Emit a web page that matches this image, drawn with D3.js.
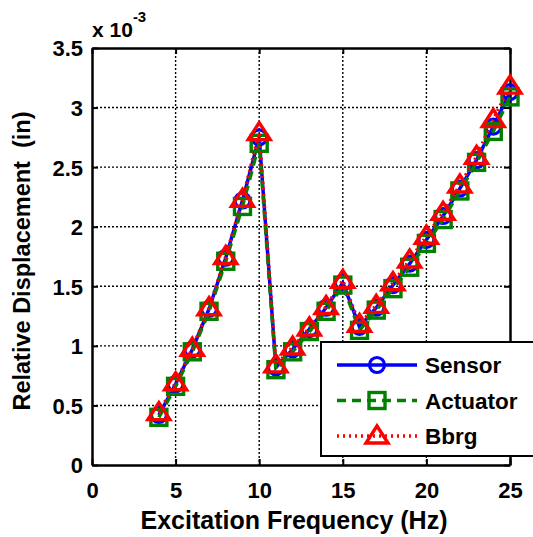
<!DOCTYPE html>
<html>
<head>
<meta charset="utf-8">
<script src="https://cdn.jsdelivr.net/npm/d3@7"></script>
<style>
  html, body { margin: 0; padding: 0; background: #fff; overflow: hidden; }
  svg { display: block; font-family: "Liberation Sans", Arial, sans-serif; font-weight: bold; }
</style>
</head>
<body>
<svg id="chart" width="533" height="537"></svg>
<script>
// Excitation frequency (Hz)
const frequency = [4, 5, 6, 7, 8, 9, 10, 11, 12, 13, 14, 15, 16, 17, 18, 19, 20, 21, 22, 23, 24, 25];
// Relative displacement (x 10^-3 in)
const sensor   = [0.42, 0.68, 0.97, 1.31, 1.74, 2.22, 2.75, 0.82, 0.97, 1.14, 1.32, 1.53, 1.16, 1.32, 1.51, 1.69, 1.89, 2.09, 2.32, 2.56, 2.84, 3.13];
const actuator = [0.40, 0.66, 0.95, 1.29, 1.71, 2.17, 2.70, 0.80, 0.95, 1.12, 1.29, 1.51, 1.13, 1.30, 1.48, 1.66, 1.86, 2.06, 2.30, 2.54, 2.80, 3.09];
const bbrg     = [0.44, 0.69, 0.98, 1.32, 1.75, 2.23, 2.79, 0.84, 0.99, 1.15, 1.33, 1.55, 1.18, 1.34, 1.53, 1.72, 1.92, 2.12, 2.35, 2.59, 2.90, 3.18];
const xTicks = [0, 5, 10, 15, 20, 25];
const yTicks = [0, 0.5, 1, 1.5, 2, 2.5, 3, 3.5];

const svg = d3.select("#chart");
const m = { left: 92, right: 510, top: 48, bottom: 465 };
const x = d3.scaleLinear().domain([0, 25]).range([m.left, m.right]);
const y = d3.scaleLinear().domain([0, 3.5]).range([m.bottom, m.top]);

// grid
const grid = svg.append("g");
xTicks.slice(1, -1).forEach(t => grid.append("line")
  .attr("x1", x(t)).attr("x2", x(t)).attr("y1", m.top).attr("y2", m.bottom)
  .attr("stroke", "#000").attr("stroke-width", 1.4).attr("stroke-dasharray", "2,2"));
yTicks.slice(1, -1).forEach(t => grid.append("line")
  .attr("x1", m.left).attr("x2", m.right).attr("y1", y(t)).attr("y2", y(t))
  .attr("stroke", "#000").attr("stroke-width", 1.4).attr("stroke-dasharray", "2,2"));

// axes with inward ticks
const xAxis = svg.append("g").attr("transform", `translate(0,${m.bottom})`)
  .call(d3.axisBottom(x).tickValues(xTicks).tickSizeInner(-6).tickSizeOuter(0).tickPadding(17));
const xTop = svg.append("g").attr("transform", `translate(0,${m.top})`)
  .call(d3.axisTop(x).tickValues(xTicks).tickSizeInner(-6).tickSizeOuter(0).tickFormat(""));
const yAxis = svg.append("g").attr("transform", `translate(${m.left},0)`)
  .call(d3.axisLeft(y).tickValues(yTicks).tickSizeInner(-6).tickSizeOuter(0).tickPadding(9)
    .tickFormat(d => d3.format("")(d)));
const yRight = svg.append("g").attr("transform", `translate(${m.right},0)`)
  .call(d3.axisRight(y).tickValues(yTicks).tickSizeInner(-6).tickSizeOuter(0).tickFormat(""));
[xAxis, xTop, yAxis, yRight].forEach(a => {
  a.select(".domain").attr("stroke", "#000").attr("stroke-width", 2.5);
  a.selectAll(".tick line").attr("stroke", "#000").attr("stroke-width", 2);
  a.selectAll("text").attr("font-size", 22).attr("font-weight", "bold")
    .attr("font-family", "Liberation Sans, Arial, sans-serif").attr("fill", "#000");
});
yAxis.selectAll("text").attr("dy", "0.36em");

// series
const series = [
  { name: "Sensor",   values: sensor,   color: "#0000ff", dash: null,  marker: "circle" },
  { name: "Actuator", values: actuator, color: "#008000", dash: "9,6", marker: "square" },
  { name: "Bbrg",     values: bbrg,     color: "#ff0000", dash: "2,4", marker: "triangle" }
];

function drawMarker(g, type, cx, cy, color) {
  if (type === "circle") {
    g.append("circle").attr("cx", cx).attr("cy", cy).attr("r", 7.5)
      .attr("fill", "none").attr("stroke", color).attr("stroke-width", 3.2);
  } else if (type === "square") {
    g.append("rect").attr("x", cx - 8).attr("y", cy - 8).attr("width", 16).attr("height", 16)
      .attr("fill", "none").attr("stroke", color).attr("stroke-width", 3.4);
  } else {
    g.append("path")
      .attr("d", `M${cx},${cy - 10} L${cx + 11},${cy + 7} L${cx - 11},${cy + 7} Z`)
      .attr("fill", "none").attr("stroke", color).attr("stroke-width", 3.4).attr("stroke-linejoin", "miter");
  }
}

const line = d3.line().x((d, i) => x(frequency[i])).y(d => y(d));
series.forEach(s => {
  const g = svg.append("g");
  g.append("path").datum(s.values).attr("d", line)
    .attr("fill", "none").attr("stroke", s.color).attr("stroke-width", 3.5)
    .attr("stroke-dasharray", s.dash);
  s.values.forEach((v, i) => drawMarker(g, s.marker, x(frequency[i]), y(v), s.color));
});

// legend (box runs past the right edge of the figure)
const lg = svg.append("g");
lg.append("rect").attr("x", 321).attr("y", 342).attr("width", 230).attr("height", 114)
  .attr("fill", "#fff").attr("stroke", "#000").attr("stroke-width", 2);
series.forEach((s, i) => {
  const cy = 365 + i * 35.5;
  lg.append("line").attr("x1", 337).attr("x2", 417).attr("y1", cy).attr("y2", cy)
    .attr("stroke", s.color).attr("stroke-width", 3.5).attr("stroke-dasharray", s.dash);
  drawMarker(lg, s.marker, 377, cy, s.color);
  lg.append("text").attr("x", 425).attr("y", cy).attr("dy", "0.36em")
    .attr("font-size", 22.5).attr("fill", "#000").text(s.name);
});

// titles
svg.append("text").attr("x", 294).attr("y", 529).attr("text-anchor", "middle")
  .attr("font-size", 25).attr("fill", "#000").text("Excitation Frequency (Hz)");
svg.append("text").attr("transform", "translate(30,261) rotate(-90)").attr("text-anchor", "middle")
  .attr("font-size", 23.5).attr("fill", "#000")
  .style("white-space", "pre").text("Relative Displacement  (in)");

// exponent label
const ex = svg.append("text").attr("x", 92).attr("y", 37).attr("font-size", 21).attr("fill", "#000");
ex.append("tspan").text("x 10");
ex.append("tspan").attr("dy", -15).attr("font-size", 15).text("-3");
</script>
</body>
</html>
